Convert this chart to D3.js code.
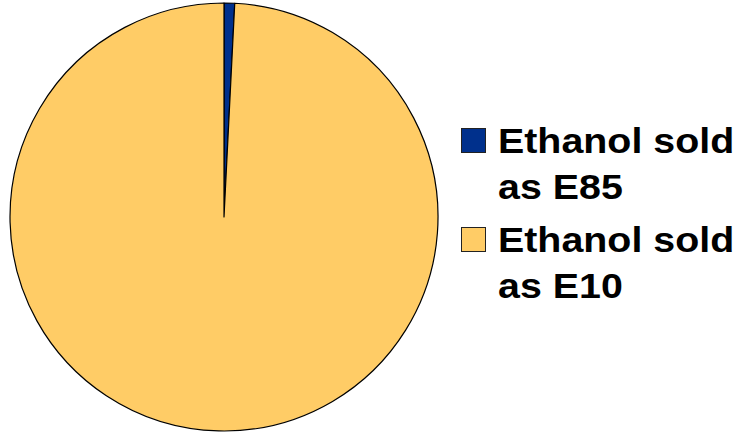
<!DOCTYPE html>
<html>
<head>
<meta charset="utf-8">
<script src="https://cdn.jsdelivr.net/npm/d3@7"></script>
<style>
  body { margin: 0; background: white; }
</style>
</head>
<body>
<div id="canvas"></div>
<script>
var width = 738;
var height = 433;

// data
const labels = ["Ethanol sold as E85", "Ethanol sold as E10"];
const legendLines = [["Ethanol sold", "as E85"], ["Ethanol sold", "as E10"]];
const shares = [0.8, 99.2];
const colors = ["#00308C", "#FFCC66"];

var svg = d3.select("#canvas").append("svg")
    .attr("width", width)
    .attr("height", height)
    .style("background-color", "white");

const cx = 224, cy = 217, radius = 214;

const pie = d3.pie().sort(null).value(d => d);
const arc = d3.arc().innerRadius(0).outerRadius(radius);

const color = d3.scaleOrdinal().domain(labels).range(colors);

svg.append("g")
    .attr("transform", `translate(${cx},${cy})`)
    .selectAll("path")
    .data(pie(shares))
    .enter().append("path")
    .attr("d", arc)
    .attr("fill", (d, i) => color(labels[i]))
    .attr("stroke", "#000")
    .attr("stroke-width", 1.2)
    .attr("stroke-linejoin", "round");

// legend
const legend = svg.append("g");
const entryY = d3.scaleOrdinal().domain(labels).range([128, 227]);

const item = legend.selectAll("g")
    .data(labels)
    .enter().append("g")
    .attr("transform", d => `translate(0,${entryY(d)})`);

item.append("rect")
    .attr("x", 461.5)
    .attr("y", 0.5)
    .attr("width", 24)
    .attr("height", 24)
    .attr("fill", d => color(d))
    .attr("stroke", "#222")
    .attr("stroke-width", 1);

// the legend text in the source is drawn a little wider than normal
item.each(function(d, i) {
    const g = d3.select(this);
    legendLines[i].forEach((line, j) => {
        g.append("text")
            .attr("transform", `translate(498,${25 + j * 46}) scale(1.125,1)`)
            .attr("font-family", "Liberation Sans, Arial, sans-serif")
            .attr("font-weight", "bold")
            .attr("font-size", 35)
            .attr("fill", "#000")
            .text(line);
    });
});
</script>
</body>
</html>
